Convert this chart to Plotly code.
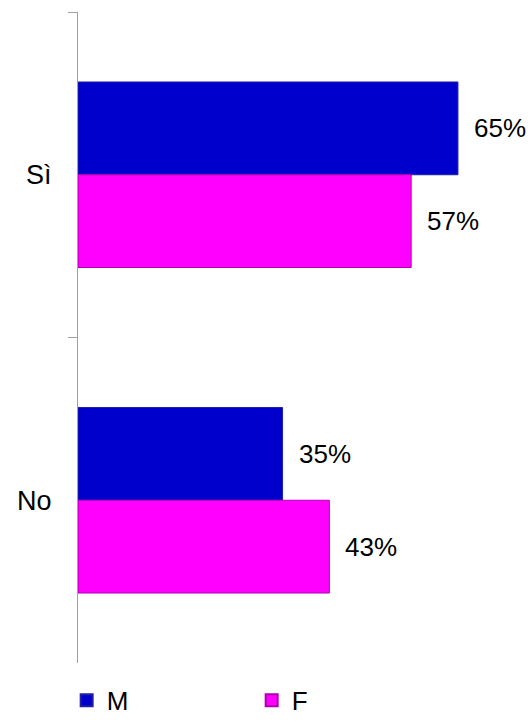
import plotly.graph_objects as go

categories = ["Sì", "No"]
series_names = ["M", "F"]
values_m = [65, 35]
values_f = [57, 43]
label_m = ["65%", "35%"]
label_f = ["57%", "43%"]

colors = {"M": "#0000CC", "F": "#FF00FF"}
edges = {"M": "#2020A0", "F": "#B000B0"}
bargap = 0.43
FONT = "Liberation Sans, Arial, sans-serif"

fig = go.Figure()
for name, vals in zip(series_names, [values_m, values_f]):
    fig.add_trace(go.Bar(
        name=name, y=categories, x=vals, orientation="h",
        marker=dict(color=colors[name], line=dict(color=edges[name], width=1)),
        hoverinfo="skip",
    ))

# data labels: positioned through category index and group offset
half = (1 - bargap) / 4
for i, cat in enumerate(categories):
    for j, (vals, labs) in enumerate([(values_m, label_m), (values_f, label_f)]):
        off = -half if j == 0 else half
        fig.add_annotation(
            x=vals[i], y=i + off, xref="x", yref="y",
            text=labs[i], showarrow=False, xanchor="left", yanchor="middle",
            xshift=14, font=dict(family=FONT, size=26, color="#000000"),
        )

fig.update_layout(
    width=531, height=724,
    margin=dict(l=78, r=0, t=12, b=50),
    barmode="group", bargap=bargap, bargroupgap=0,
    plot_bgcolor="white", paper_bgcolor="white",
    font=dict(family=FONT, size=26, color="#000000"),
    showlegend=True,
    legend=dict(
        orientation="h", x=-0.025, xanchor="left", y=-0.0574, yanchor="middle",
        font=dict(family=FONT, size=26, color="#000000"),
        entrywidth=140, entrywidthmode="pixels",
        itemsizing="constant", bgcolor="rgba(0,0,0,0)",
    ),
    xaxis=dict(range=[0, 77.5], showgrid=False, showline=False, zeroline=False,
               showticklabels=False, ticks=""),
    yaxis=dict(
        categoryorder="array", categoryarray=categories, autorange="reversed",
        showline=True, linecolor="#A0A0A0", linewidth=1,
        ticks="outside", tickson="boundaries", ticklen=9, tickcolor="#A0A0A0",
        showgrid=False, zeroline=False, ticklabelstandoff=20,
        tickfont=dict(family=FONT, size=27, color="#000000"),
    ),
)

fig.write_html(
    "out.html",
    config={"displayModeBar": False},
    post_script="document.body.style.margin='0';document.documentElement.style.overflow='hidden';",
)
